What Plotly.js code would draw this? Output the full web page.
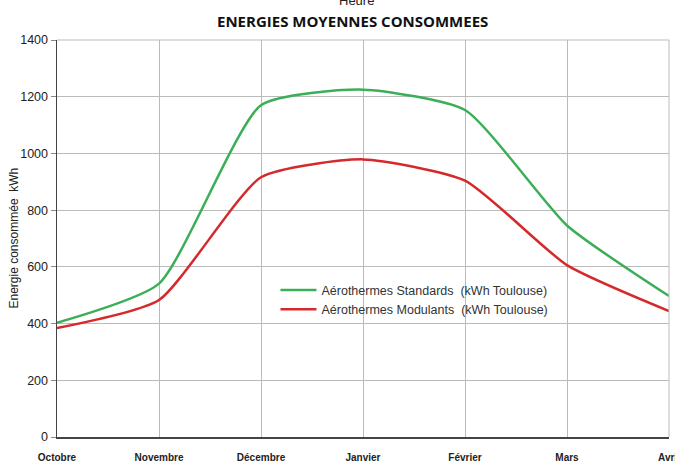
<!DOCTYPE html>
<html>
<head>
<meta charset="utf-8">
<script src="https://cdn.plot.ly/plotly-3.0.1.min.js"></script>
<style>html,body{margin:0;padding:0;background:#fff;}#chart{width:675px;height:461px;}</style>
</head>
<body>
<div id="chart"></div>
<script>
const months = ["Octobre", "Novembre", "Décembre", "Janvier", "Février", "Mars", "Avril"];
const standards = [403, 541, 1170, 1225, 1153, 746, 497];
const modulants = [384, 483, 916, 979, 904, 606, 444];
const seriesNames = ["Aérothermes Standards  (kWh Toulouse)", "Aérothermes Modulants  (kWh Toulouse)"];
const yTicks = [0, 200, 400, 600, 800, 1000, 1200, 1400];

const traces = [
  {x: months, y: standards, name: seriesNames[0], type: "scatter", mode: "lines",
   line: {color: "#3cae58", width: 2.5, shape: "spline", smoothing: 0.55}},
  {x: months, y: modulants, name: seriesNames[1], type: "scatter", mode: "lines",
   line: {color: "#d42a2c", width: 2.5, shape: "spline", smoothing: 0.55}}
];

const layout = {
  width: 675, height: 461,
  margin: {l: 57, r: 6, t: 40, b: 24},
  paper_bgcolor: "#fff", plot_bgcolor: "#fff",
  font: {family: "Liberation Sans, Arial, sans-serif", color: "#222"},
  showlegend: true,
  legend: {x: 0.357, y: 0.407, xanchor: "left", yanchor: "top", bgcolor: "rgba(0,0,0,0)",
           font: {size: 12.5, color: "#333"}, tracegroupgap: 0, itemwidth: 36},
  xaxis: {type: "category", range: [0, 6], showgrid: true, gridcolor: "#bbbbbb", gridwidth: 1,
          showline: true, linecolor: "#444", linewidth: 1.5, ticks: "outside", ticklen: 10,
          tickcolor: "rgba(0,0,0,0)", tickfont: {size: 10, color: "#222", family: "Liberation Sans, Arial, sans-serif", weight: "bold"},
          zeroline: false, fixedrange: true},
  yaxis: {range: [0, 1400], tickvals: yTicks, showgrid: true, gridcolor: "#bbbbbb", gridwidth: 1,
          showline: true, linecolor: "#444", linewidth: 1.5, ticks: "outside", ticklen: 5, tickcolor: "#888",
          tickfont: {size: 12.5, color: "#222"}, zeroline: false, fixedrange: true},
  shapes: [
    {type: "line", xref: "paper", yref: "paper", x0: 1, x1: 1, y0: 0, y1: 1, line: {color: "#bbbbbb", width: 1}},
    {type: "line", xref: "paper", yref: "paper", x0: 0, x1: 1, y0: 1, y1: 1, line: {color: "#bbbbbb", width: 1}}
  ],
  annotations: [
    {text: "ENERGIES MOYENNES CONSOMMEES", xref: "paper", yref: "paper", x: 0.5, xshift: -11, y: 1, yshift: 19,
     xanchor: "center", yanchor: "middle", showarrow: false,
     font: {family: "Open Sans, sans-serif", size: 15, color: "#111", weight: "bold"}},
    {text: "Heure", xref: "paper", yref: "paper", x: 0.49, y: 1, yshift: 40,
     xanchor: "center", yanchor: "middle", showarrow: false,
     font: {family: "Liberation Sans, Arial, sans-serif", size: 13, color: "#222"}},
    {text: "Energie consommée  kWh", xref: "paper", yref: "paper", x: 0, xshift: -44, y: 0.5,
     xanchor: "center", yanchor: "middle", textangle: -90, showarrow: false,
     font: {family: "Liberation Sans, Arial, sans-serif", size: 12, color: "#222"}}
  ]
};

Plotly.newPlot("chart", traces, layout, {displayModeBar: false, staticPlot: true});
</script>
</body>
</html>
